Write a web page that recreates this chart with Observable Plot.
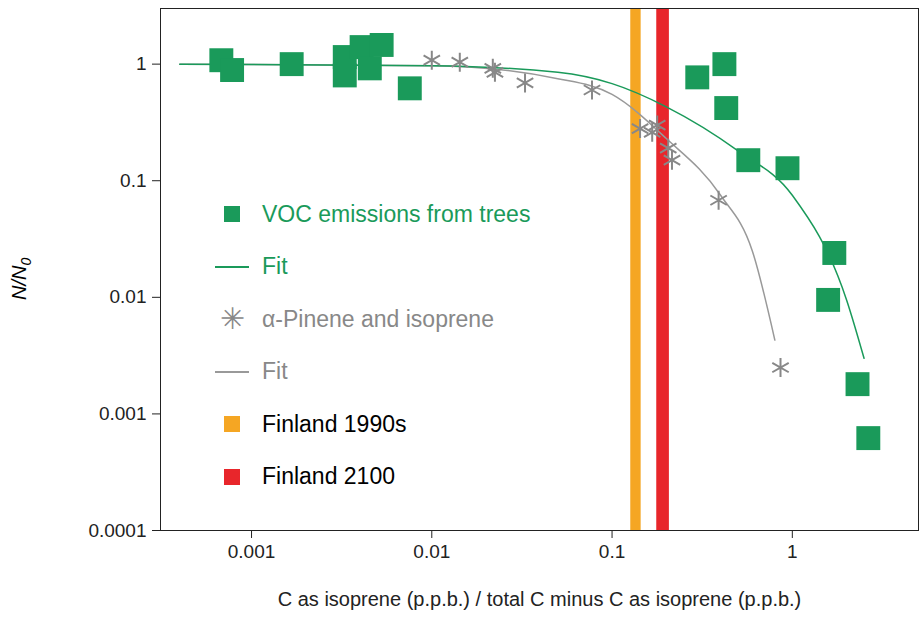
<!DOCTYPE html>
<html>
<head>
<meta charset="UTF-8">
<script src="https://cdn.jsdelivr.net/npm/d3@7"></script>
<script src="https://cdn.jsdelivr.net/npm/@observablehq/plot@0.6"></script>
<style>
  body { margin: 0; background: #fff; font-family: Arial, "Liberation Sans", sans-serif; }
  #wrap { position: relative; width: 922px; height: 620px; }
  #legend { position: absolute; left: 212px; top: 188px; font-size: 23px; }
  .row { display: flex; align-items: center; height: 52.5px; }
  .sym { width: 40px; display: flex; justify-content: center; margin-right: 10px; }
  #ylab { position: absolute; transform: rotate(-90deg); transform-origin: left top; font-size: 20px; font-style: italic; }
</style>
</head>
<body>
<div id="wrap">
  <div id="chart"></div>
  <div id="ylab" style="top:300px;left:8px">N/N<sub style="font-size:14px">0</sub></div>
  <div id="legend">
    <div class="row"><div class="sym"><div style="width:16px;height:16px;background:#1a9a5a"></div></div><span style="color:#1a9a5a">VOC emissions from trees</span></div>
    <div class="row"><div class="sym"><div style="width:34px;height:2px;background:#1a9a5a"></div></div><span style="color:#1a9a5a">Fit</span></div>
    <div class="row"><div class="sym"><span style="color:#888;font-size:30px;line-height:20px">&#10035;</span></div><span style="color:#888">α-Pinene and isoprene</span></div>
    <div class="row"><div class="sym"><div style="width:34px;height:2px;background:#999"></div></div><span style="color:#888">Fit</span></div>
    <div class="row"><div class="sym"><div style="width:16px;height:16px;background:#f5a623"></div></div><span>Finland 1990s</span></div>
    <div class="row"><div class="sym"><div style="width:16px;height:16px;background:#e8262b"></div></div><span>Finland 2100</span></div>
  </div>
</div>
<script>
const vocX = [0.00068, 0.00078, 0.00167, 0.00329, 0.00329, 0.00408, 0.00453, 0.00527, 0.00755, 0.297, 0.42, 0.43, 0.57, 0.94, 1.71, 1.58, 2.30, 2.64];
const vocY = [1.08, 0.89, 1.0, 0.80, 1.15, 1.40, 0.92, 1.46, 0.62, 0.77, 1.0, 0.42, 0.15, 0.128, 0.024, 0.0095, 0.0018, 0.00062];
const pinX = [0.01, 0.0143, 0.0218, 0.0224, 0.0329, 0.0774, 0.143, 0.167, 0.178, 0.205, 0.215, 0.39, 0.86];
const pinY = [1.08, 1.04, 0.92, 0.85, 0.69, 0.60, 0.28, 0.26, 0.30, 0.19, 0.15, 0.068, 0.0025];
const vocFitX = [0.0004, 0.01, 0.05, 0.1, 0.2, 0.5, 1, 2, 2.5];
const vocFitY = [1, 0.97, 0.85, 0.68, 0.43, 0.18, 0.075, 0.0095, 0.003];
const pinFitX = [0.0004, 0.01, 0.05, 0.1, 0.2, 0.4, 0.6, 0.8];
const pinFitY = [1, 0.97, 0.75, 0.55, 0.23, 0.075, 0.025, 0.0043];
const bands = [{name: "Finland 1990s", x1: 0.127, x2: 0.145, c: "#f5a623"}, {name: "Finland 2100", x1: 0.177, x2: 0.208, c: "#e8262b"}];

const voc = vocX.map((x, i) => ({x, y: vocY[i]}));
const pin = pinX.map((x, i) => ({x, y: pinY[i]}));
const vocFit = vocFitX.map((x, i) => ({x, y: vocFitY[i]}));
const pinFit = pinFitX.map((x, i) => ({x, y: pinFitY[i]}));

const chart = Plot.plot({
  width: 922, height: 620,
  marginLeft: 160, marginRight: 4, marginTop: 8, marginBottom: 90,
  style: {fontFamily: "Arial, 'Liberation Sans', sans-serif", fontSize: "19px", color: "#222"},
  x: {type: "log", domain: [10 ** -3.505, 10 ** 0.7]},
  y: {type: "log", domain: [0.0001, 3]},
  marks: [
    Plot.rectX(bands, {x1: "x1", x2: "x2", y1: 0.0001, y2: 3, fill: "c"}),
    Plot.line(pinFit, {x: "x", y: "y", stroke: "#999", strokeWidth: 1.5, curve: "monotone-x"}),
    Plot.line(vocFit, {x: "x", y: "y", stroke: "#1a9a5a", strokeWidth: 1.5, curve: "monotone-x"}),
    Plot.dot(pin, {x: "x", y: "y", symbol: "asterisk", stroke: "#888", strokeWidth: 2, r: 9}),
    Plot.dot(voc, {x: "x", y: "y", symbol: "square", fill: "#1a9a5a", r: 13.5}),
    Plot.axisX({ticks: [0.001, 0.01, 0.1, 1], tickFormat: d => String(d), label: null, tickSize: 8, tickPadding: 6, fontSize: 19}),
    Plot.axisY({ticks: [0.0001, 0.001, 0.01, 0.1, 1], tickFormat: d => String(d), label: null, tickSize: 8, tickPadding: 6, fontSize: 19}),
    Plot.frame({stroke: "#222"}),
    Plot.text(["C as isoprene (p.p.b.) / total C minus C as isoprene (p.p.b.)"], {frameAnchor: "bottom", dy: 75, fontSize: 20})
  ]
});
document.getElementById("chart").append(chart);
</script>
</body>
</html>
